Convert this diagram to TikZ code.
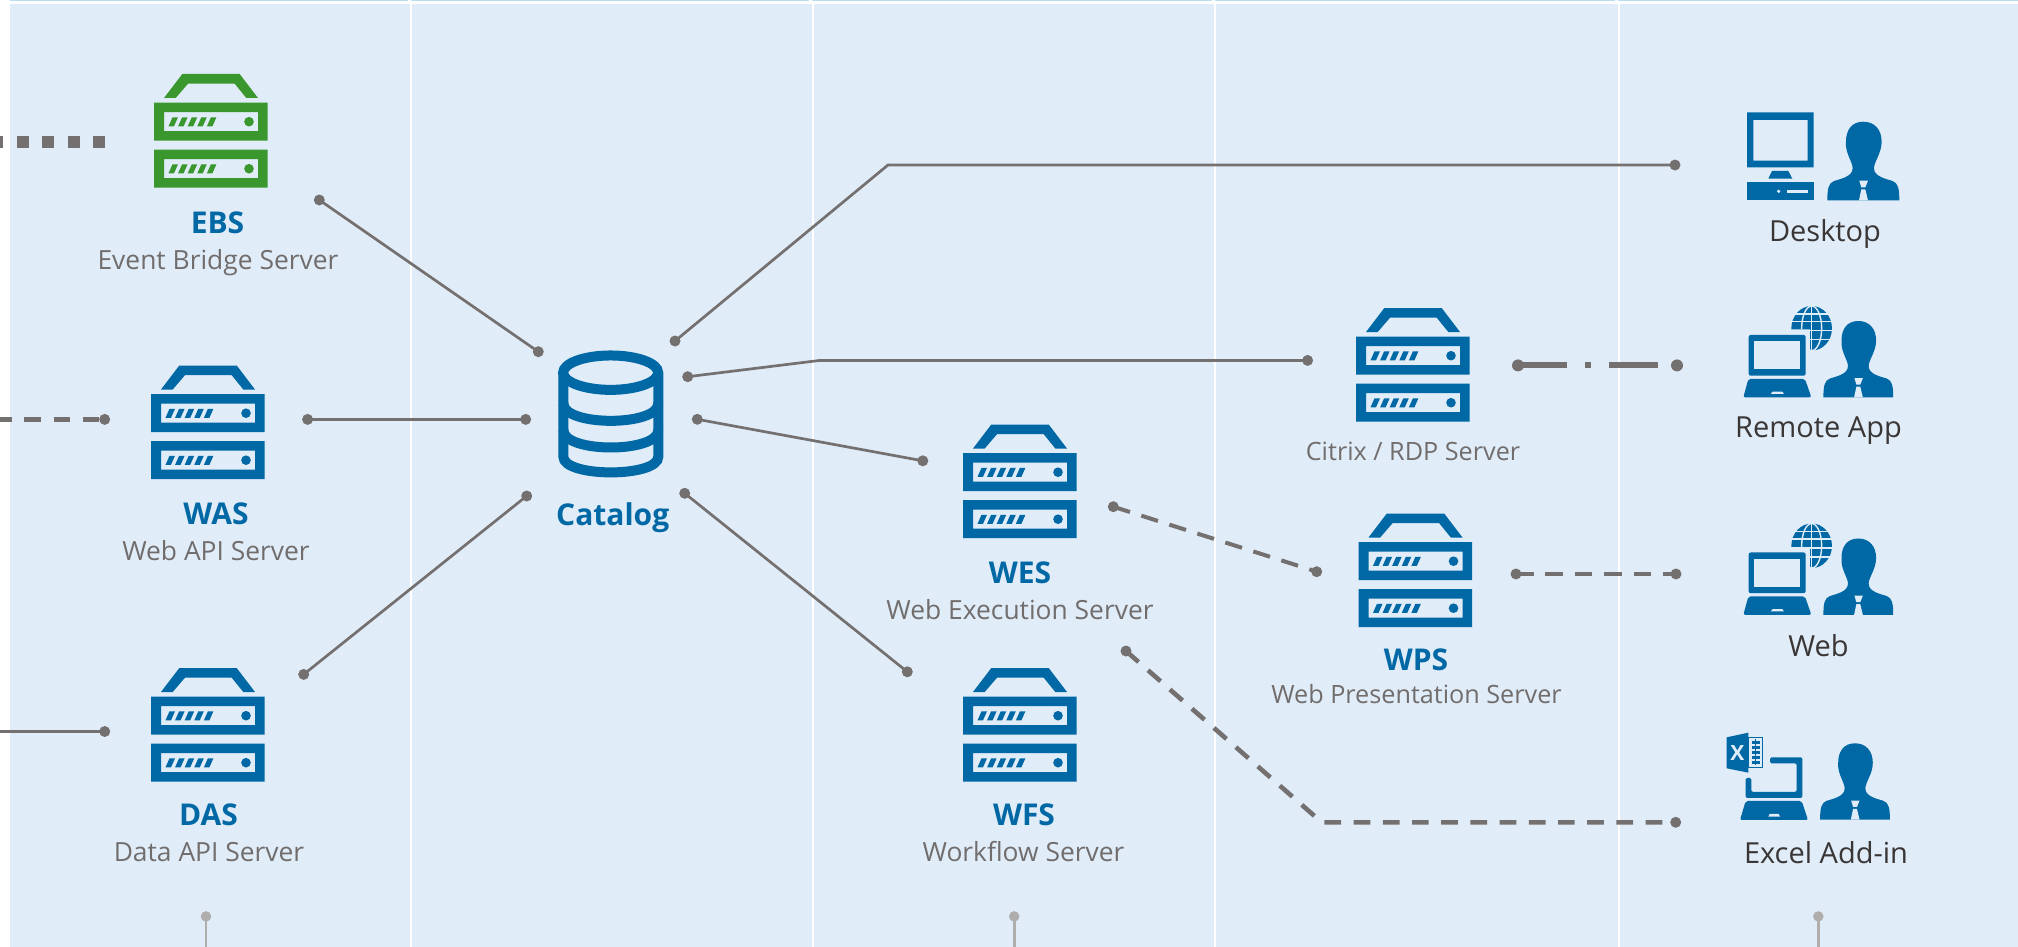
\documentclass[tikz,border=0pt]{standalone}
\usepackage{fontspec}
\setmainfont{Open Sans}
\definecolor{bgblue}{HTML}{E0ECF8}
\definecolor{topblue}{HTML}{BADCF0}
\definecolor{iconblue}{HTML}{0068A5}
\definecolor{icongreen}{HTML}{3A972E}
\definecolor{linegrey}{HTML}{757070}
\definecolor{stubgrey}{HTML}{B0ADAD}
\definecolor{subgrey}{HTML}{716D6D}
\definecolor{darktext}{HTML}{3A3636}
\tikzset{
  dotn/.style={circle,fill=linegrey,inner sep=0pt,minimum size=11pt},
  stubdot/.style={circle,fill=stubgrey,inner sep=0pt,minimum size=10.5pt},
  conn/.style={draw=linegrey,line width=2.7pt},
  dashconn/.style={draw=linegrey,line width=4pt,dash pattern=on 17.5pt off 11.9pt},
  dashthick/.style={draw=linegrey,line width=4.6pt,dash pattern=on 16.7pt off 12.5pt},
  stubline/.style={draw=stubgrey,line width=2.8pt},
  titlet/.style={anchor=base,inner sep=0pt,text=iconblue,font=\fontsize{30}{30}\selectfont\bfseries},
  subt/.style={anchor=base,inner sep=0pt,text=subgrey,font=\fontsize{26.4}{26.4}\selectfont},
  subnarrow/.style={anchor=base,inner sep=0pt,text=subgrey,font=\fontsize{25.2}{25.2}\selectfont},
  usert/.style={anchor=base,inner sep=0pt,text=darktext,font=\fontsize{29}{29}\selectfont},
  pics/server/.style={code={
    \fill[#1] (10,24)--(28.3,0)--(85.7,0)--(104,24)--(92.3,24)--(80.7,9.7)--(34,9.7)--(21.7,24)--cycle;
    \foreach \yy in {28.7,75.7}{
      \fill[#1,even odd rule] (0,\yy) rectangle (113.7,\yy+38) (10,\yy+9.5) rectangle (104,\yy+28.5);
      \fill[#1] (95,\yy+19) circle (4.8pt);
      \foreach \xx in {0,1,2,3,4}{
        \fill[#1] (14.5+\xx*9.6,\yy+23.6) -- (18.5+\xx*9.6,\yy+14.6) -- (24+\xx*9.6,\yy+14.6) -- (20+\xx*9.6,\yy+23.6) -- cycle;
      }
    }
  }},
  pics/person/.style={code={
    \begin{scope}[x=#1*0.3333pt,y=-#1*0.3333pt]
    \fill[iconblue] (0,0) .. controls (34,0) and (55,24) .. (55,60)
      .. controls (55,95) and (32,120) .. (32,140)
      .. controls (32,165) and (70,172) .. (88,178)
      .. controls (104,184) and (108,200) .. (108,236)
      -- (-108,236)
      .. controls (-108,200) and (-104,184) .. (-88,178)
      .. controls (-70,172) and (-32,165) .. (-32,140)
      .. controls (-32,120) and (-55,95) .. (-52,60)
      .. controls (-52,24) and (-34,0) .. (0,0) -- cycle;
    \fill[bgblue] (-12,177) -- (14,177) -- (6,197) -- (-6,197) -- cycle;
    \fill[bgblue] (-6,203) -- (6,203) -- (14,236) -- (-13,236) -- cycle;
    \end{scope}
  }},
  pics/laptop/.style={code={
    \begin{scope}[x=0.3333pt,y=-0.3333pt]
    \fill[iconblue,rounded corners=2pt] (206,735) -- (377,735) -- (377,857) -- (206,857) -- cycle;
    \fill[bgblue] (223,754) rectangle (360,838);
    \fill[iconblue,rounded corners=2pt] (205,867) -- (375,867) -- (394,922) -- (190,922) -- cycle;
    \fill[bgblue] (272,912) -- (312,912) -- (307,905) -- (278,905) -- cycle;
    \begin{scope}
      \clip (330,640) rectangle (460,718) (390,718) rectangle (460,790);
      \fill[iconblue] (395,715) ellipse (20.3pt and 22.3pt);
      \draw[bgblue,line width=1.4pt] (395,715) ellipse (10pt and 22.3pt);
      \draw[bgblue,line width=1.4pt] (395,640) -- (395,790);
      \foreach \yy in {672,695,722,748}{\draw[bgblue,line width=1.4pt] (330,\yy) -- (460,\yy);}
    \end{scope}
    \end{scope}
  }}
}
\begin{document}
\begin{tikzpicture}[x=1pt,y=-1pt]
\useasboundingbox (0,0) rectangle (2018,947);
\fill[white] (0,0) rectangle (2018,947);
% columns
\fill[bgblue] (10,4) rectangle (410,947);
\fill[bgblue] (412.3,4) rectangle (811.5,947);
\fill[bgblue] (813.8,4) rectangle (1214,947);
\fill[bgblue] (1216.3,4) rectangle (1617.5,947);
\fill[bgblue] (1619.8,4) rectangle (2018,947);
\fill[topblue] (10,0) rectangle (408,1.2);
\fill[topblue] (411,0) rectangle (809,1.2);
\fill[topblue] (812,0) rectangle (1212,1.2);
\fill[topblue] (1215,0) rectangle (1615,1.2);
\fill[topblue] (1618,0) rectangle (2018,1.2);

% servers
\pic at (154,74) {server=icongreen};
\pic at (151,365.5) {server=iconblue};
\pic at (151,668) {server=iconblue};
\pic at (963,424.5) {server=iconblue};
\pic at (963,668) {server=iconblue};
\pic at (1356,308) {server=iconblue};
\pic at (1358.5,513.5) {server=iconblue};

% catalog
\begin{scope}[shift={(520,320)},x=0.3333pt,y=-0.3333pt]
  \draw[iconblue,line width=10pt] (272,158) ellipse (47.5pt and 17.2pt);
  \draw[iconblue,line width=10pt] (130,160) -- (130,410) .. controls (130,473) and (415,473) .. (415,410) -- (415,160);
  \draw[iconblue,line width=10pt] (130,250) .. controls (130,320) and (415,320) .. (415,250);
  \draw[iconblue,line width=10pt] (130,330) .. controls (130,400) and (415,400) .. (415,330);
\end{scope}

% desktop
\begin{scope}[shift={(1680,90)},x=0.3333pt,y=-0.3333pt]
  \fill[iconblue,even odd rule] (201,67) rectangle (401,232) (220,90) rectangle (383,212);
  \fill[iconblue] (276,243) -- (325,243) -- (337,266) -- (265,266) -- cycle;
  \fill[iconblue] (201,277) rectangle (401,331);
  \fill[bgblue] (296,304) circle (1.8pt);
  \fill[bgblue] (321,299) rectangle (383,310);
\end{scope}
\pic at (1863.3,121.7) {person=1};

% remote app and web
\pic at (1680,90) {laptop};
\pic at (1858.3,321) {person=0.97};
\pic at (1680,307.5) {laptop};
\pic at (1858.3,538.5) {person=0.97};

% excel
\begin{scope}[shift={(1680,700)},x=0.3333pt,y=-0.3333pt]
  \fill[iconblue,rounded corners=1.5pt] (270,172) -- (367,172) -- (367,294) -- (197,294) -- (197,234) -- (214,234) -- (214,276) -- (350,276) -- (350,190) -- (270,190) -- cycle;
  \fill[iconblue,rounded corners=2pt] (197,303) -- (365,303) -- (384,360) -- (180,360) -- cycle;
  \fill[bgblue] (265,350) -- (300,350) -- (296,342) -- (269,342) -- cycle;
  \fill[iconblue] (205,110) rectangle (250,205);
  \fill[bgblue] (208,114) rectangle (246,201);
  \foreach \yy in {122,137,152,167,182}{\fill[iconblue] (215,\yy) rectangle (240,\yy+9);}
  \fill[iconblue] (226,118) rectangle (229,195);
  \fill[iconblue] (140,112) -- (205,98) -- (205,218) -- (140,205) -- cycle;
  \node[inner sep=0pt,text=bgblue,font=\fontsize{21}{21}\selectfont\bfseries] (xlx) at (172,158) {X};
\end{scope}
\pic at (1855,743.3) {person=0.97};

% labels
\node[titlet] (ebs) at (217.5,233.7) {EBS};
\node[subt] (ebssub) at (218,269.3) {Event Bridge Server};
\node[titlet] (was) at (216,524.6) {WAS};
\node[subt] (wassub) at (216,560.2) {Web API Server};
\node[titlet] (das) at (208.5,825.7) {DAS};
\node[subt] (dassub) at (209,861.3) {Data API Server};
\node[titlet] (cat) at (612.7,525) {Catalog};
\node[titlet] (wes) at (1020,583.8) {WES};
\node[subt] (wessub) at (1020,619.4) {Web Execution Server};
\node[titlet] (wfs) at (1024,825.7) {WFS};
\node[subt] (wfssub) at (1023.5,861.3) {Workflow Server};
\node[subnarrow] (citrix) at (1413,460.5) {Citrix / RDP Server};
\node[titlet] (wps) at (1416,670) {WPS};
\node[subnarrow] (wpssub) at (1416.5,703.8) {Web Presentation Server};
\node[usert] (desk) at (1825,241.7) {Desktop};
\node[usert] (rem) at (1818.5,437.7) {Remote App};
\node[usert] (web) at (1818.5,656.5) {Web};
\node[usert] (xl) at (1826,863.7) {Excel Add-in};

% connector ends
\node[dotn] (a1) at (319.3,200) {};
\node[dotn] (a2) at (538.3,351.7) {};
\node[dotn] (b1) at (307.6,419.4) {};
\node[dotn] (b2) at (525.7,419.4) {};
\node[dotn] (c1) at (303.7,674.4) {};
\node[dotn] (c2) at (526.7,496) {};
\node[dotn] (d1) at (675,341) {};
\coordinate (d2) at (888,165);
\node[dotn] (d3) at (1675,165) {};
\node[dotn] (e1) at (687.7,376.7) {};
\coordinate (e2) at (820,360.4);
\node[dotn] (e3) at (1307.6,360.4) {};
\node[dotn] (f1) at (697.3,419.3) {};
\node[dotn] (f2) at (922.8,460.8) {};
\node[dotn] (g1) at (684.7,493.3) {};
\node[dotn] (g2) at (907.3,671.8) {};
\node[dotn,minimum size=12pt] (h1) at (1518,365.4) {};
\node[dotn,minimum size=12pt] (h2) at (1677,365.4) {};
\node[dotn] (i1) at (1113.3,506.7) {};
\node[dotn] (i2) at (1316.7,571.7) {};
\node[dotn] (j1) at (1516,574) {};
\node[dotn] (j2) at (1676,574) {};
\node[dotn] (k1) at (1126,651) {};
\coordinate (k2) at (1321.7,822.3);
\node[dotn] (k3) at (1675.7,822.3) {};
\node[dotn] (l1) at (104.7,419.4) {};
\coordinate (l0) at (0,419.4);
\node[dotn] (m1) at (104.7,731.5) {};
\coordinate (m0) at (0,731.5);
\coordinate (n1) at (105,142.3);
\coordinate (n0) at (0,142.3);
\node[stubdot] (s1) at (206,916.4) {};
\coordinate (s1b) at (206,947);
\node[stubdot] (s2) at (1014.2,916.4) {};
\coordinate (s2b) at (1014.2,947);
\node[stubdot] (s3) at (1818.3,916.4) {};
\coordinate (s3b) at (1818.3,947);

% connectors
\draw[conn] (a1.center) -- (a2.center);
\draw[conn] (b1.center) -- (b2.center);
\draw[conn] (c1.center) -- (c2.center);
\draw[conn] (d1.center) -- (d2) -- (d3.center);
\draw[conn] (e1.center) -- (e2) -- (e3.center);
\draw[conn] (f1.center) -- (f2.center);
\draw[conn] (g1.center) -- (g2.center);
\draw[draw=linegrey,line width=6pt,dash pattern=on 48.7pt off 18.3pt on 6pt off 18.3pt on 48.4pt off 30pt] (h1.center) -- (h2.center);
\draw[dashconn] (i1.center) -- (i2.center);
\draw[dashconn] (j1.center) -- (j2.center);
\draw[dashthick] (k1.center) -- (k2) -- (k3.center);
\draw[dashthick,dash phase=23.9pt] (l1.center) -- (l0);
\draw[conn] (m1.center) -- (m0);
\draw[draw=linegrey,line width=12pt,dash pattern=on 11.7pt off 13.8pt] (n1) -- (n0);
\draw[stubline] (s1.center) -- (s1b);
\draw[stubline] (s2.center) -- (s2b);
\draw[stubline] (s3.center) -- (s3b);
\end{tikzpicture}
\end{document}
